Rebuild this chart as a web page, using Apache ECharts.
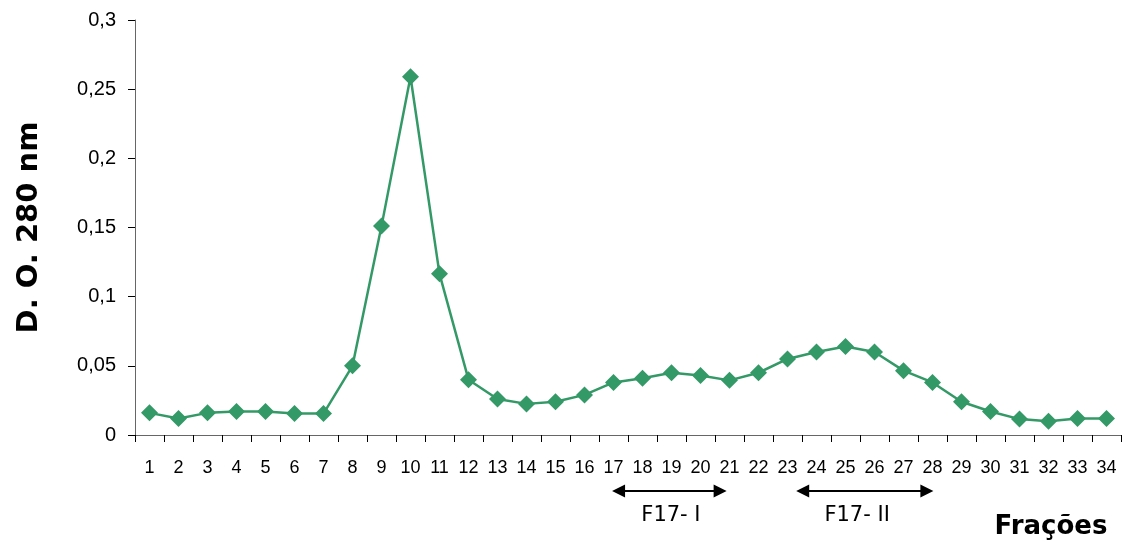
<!DOCTYPE html>
<html><head><meta charset="utf-8">
<script src="https://cdn.jsdelivr.net/npm/echarts@6/dist/echarts.min.js"></script>
<style>html,body{margin:0;padding:0;background:#fff}#c{width:1129px;height:549px}</style>
</head><body><div id="c"></div>
<script>
const categories = ['1','2','3','4','5','6','7','8','9','10','11','12','13','14','15','16','17','18','19','20','21','22','23','24','25','26','27','28','29','30','31','32','33','34'];
const absorbance = [0.016,0.012,0.016,0.017,0.017,0.0155,0.0155,0.050,0.151,0.259,0.1165,0.040,0.026,0.0225,0.024,0.029,0.038,0.041,0.045,0.043,0.0395,0.045,0.055,0.060,0.064,0.060,0.0465,0.038,0.024,0.017,0.0115,0.010,0.012,0.012];
// fraction ranges in category-index units (0 = fraction 1)
const rangeLabels = ['F17- I','F17- II'];
const rangeFrom = [15.95, 22.3];
const rangeTo = [19.9, 27.03];
const rangeLabelAt = [17.98, 24.4];
const yTitle = 'D. O. 280 nm';
const xTitle = 'Frações';

const chart = echarts.init(document.getElementById('c'));
const green = '#339966';
chart.setOption({
  animation:false,
  grid:{left:135,right:8,top:20,bottom:114},
  xAxis:{type:'category',data:categories,boundaryGap:true,
    axisLine:{lineStyle:{color:'#666',width:1}},
    axisTick:{show:true,length:7,lineStyle:{color:'#000'}},
    axisLabel:{color:'#000',fontFamily:'Liberation Sans',fontSize:18,margin:24,interval:0}},
  yAxis:{type:'value',min:0,max:0.3,interval:0.05,
    splitLine:{show:false},
    axisLine:{show:true,lineStyle:{color:'#666',width:1}},
    axisTick:{show:true,length:7,lineStyle:{color:'#000'}},
    axisLabel:{color:'#000',fontFamily:'Liberation Sans',fontSize:20,margin:19,
      formatter:v=>String(Math.round(v*100)/100).replace('.',',')},
    name:yTitle,nameLocation:'middle',nameGap:91,nameRotate:90,
    nameTextStyle:{color:'#000',fontFamily:'DejaVu Sans',fontWeight:'bold',fontSize:29}},
  series:[{type:'line',data:absorbance,symbol:'diamond',symbolSize:17,
    lineStyle:{color:green,width:2.5},itemStyle:{color:green}}]
});

const g=[];
const yAr=491;
const base=chart.convertToPixel({xAxisIndex:0},0);
const step=chart.convertToPixel({xAxisIndex:0},1)-base;
rangeLabels.forEach((lab,i)=>{
  const a=base+rangeFrom[i]*step, b=base+rangeTo[i]*step, c=base+rangeLabelAt[i]*step;
  g.push({type:'line',shape:{x1:a+10,y1:yAr,x2:b-10,y2:yAr},style:{stroke:'#000',lineWidth:2}});
  g.push({type:'polygon',shape:{points:[[a,yAr],[a+13,yAr-6.5],[a+13,yAr+6.5]]},style:{fill:'#000'}});
  g.push({type:'polygon',shape:{points:[[b,yAr],[b-13,yAr-6.5],[b-13,yAr+6.5]]},style:{fill:'#000'}});
  g.push({type:'text',x:c,y:516,style:{text:lab,fontFamily:'DejaVu Sans',fontSize:21,fill:'#000',align:'center',verticalAlign:'middle'}});
});
g.push({type:'text',x:1051,y:527,style:{text:xTitle,fontFamily:'DejaVu Sans',fontWeight:'bold',fontSize:26,fill:'#000',align:'center',verticalAlign:'middle'}});
chart.setOption({graphic:g});
</script></body></html>
